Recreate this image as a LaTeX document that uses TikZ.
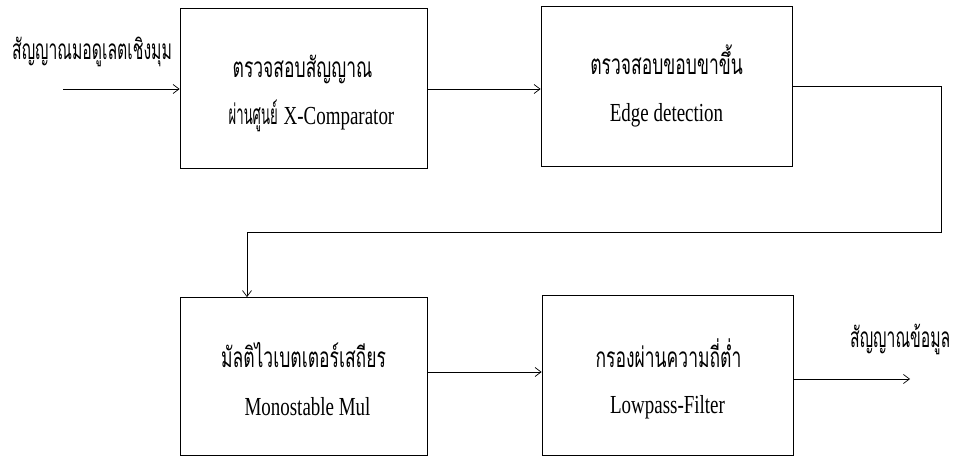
\documentclass[tikz,border=0pt]{standalone}
\usepackage{fontspec}
\setmainfont[FakeStretch=0.73]{Liberation Serif}
\newfontfamily\thaifont[Script=Thai,FakeStretch=0.625]{Loma}
\usetikzlibrary{arrows.meta}
\newcommand{\thaisz}{\thaifont\fontsize{28}{32}\selectfont}
\newcommand{\latsz}{\rmfamily\fontsize{26}{30}\selectfont}
\tikzset{
  blockbox/.style={draw, line width=0.8pt, minimum width=#1, minimum height=160pt, inner sep=0pt, anchor=center},
  thaitxt/.style={font=\thaisz, inner sep=0pt, anchor=base},
  lattxt/.style={font=\latsz, inner sep=0pt, anchor=base},
  conn/.style={line width=0.8pt, -{Straight Barb[length=6pt,width=9pt,line width=0.7pt]}},
}
\begin{document}
\begin{tikzpicture}[x=1pt,y=-1pt]
\useasboundingbox (0,0) rectangle (954,457);
% boxes
\node[blockbox=247pt] (b1) at (303.5,88) {};
\node[blockbox=251pt] (b2) at (666.5,86) {};
\node[blockbox=247pt, minimum height=158pt] (b3) at (303.5,376.5) {};
\node[blockbox=251pt] (b4) at (667.5,375) {};
% texts
\node[thaitxt] (t1a) at (302.5,78) {ตรวจสอบสัญญาณ};
\node[thaitxt] (t1b) at (311.5,125) {\scalebox{0.75}[1]{ผ่านศูนย์} {\latsz X-Comparator}};
\node[thaitxt] (t2a) at (666.5,75) {ตรวจสอบขอบขาขึ้น};
\node[lattxt] (t2b) at (666.5,122) {Edge detection};
\node[thaitxt] (t3a) at (303.5,367) {มัลติไวเบตเตอร์เสถียร};
\node[lattxt] (t3b) at (307.5,415) {Monostable Mul};
\node[thaitxt] (t4a) at (668.5,367) {กรองผ่านความถี่ต่ำ};
\node[lattxt] (t4b) at (667.5,413) {Lowpass-Filter};
\node[thaitxt, anchor=base west] (inlbl) at (12,60) {\scalebox{0.9}[1]{สัญญาณมอดูเลตเชิงมุม}};
\node[thaitxt, anchor=base west] (outlbl) at (850,348) {\scalebox{0.9}[1]{สัญญาณข้อมูล}};
% connector points
\coordinate (inS) at (63,89);
\coordinate (c1) at (941,232);
\coordinate (c2) at (247,232);
\coordinate (outE) at (910,379);
% connectors
\draw[conn] (inS) -- (inS -| b1.west);
\draw[conn] (b1.east |- inS) -- (inS -| b2.west);
\draw[conn] (b2.east) -| (c1) -- (c2) -- (c2 |- b3.north);
\draw[conn] ([yshift=4.5pt]b3.east) -- ([yshift=4.5pt]b3.east -| b4.west);
\draw[conn] (b4.east |- outE) -- (outE);
\end{tikzpicture}
\end{document}
